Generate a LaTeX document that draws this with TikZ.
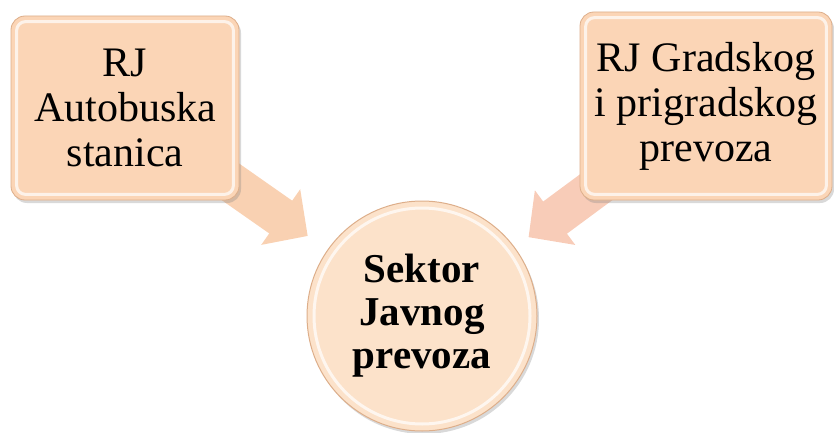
\documentclass[tikz,border=0pt]{standalone}
\usepackage{fontspec}
\setmainfont{Liberation Serif}
\usepackage{tikz}
\usetikzlibrary{shapes.geometric, arrows.meta, shadows, backgrounds}
\definecolor{boxpeach}{HTML}{FBD5B6}
\definecolor{boxedge}{HTML}{DDAE8A}
\definecolor{circpeach}{HTML}{FCE2CA}
\definecolor{arrowpeach}{HTML}{F9D1B2}
\definecolor{arrowpink}{HTML}{F8CCB8}
\tikzstyle{unit} = [rectangle, rounded corners=14pt,
minimum width=228pt,
minimum height=184pt,
text centered, align=center,
font=\fontsize{42}{45}\selectfont,
draw=boxedge, line width=0.8pt,
fill=boxpeach,
drop shadow={shadow xshift=2pt, shadow yshift=-3pt, opacity=0.3}]
\tikzstyle{sector} = [circle,
minimum size=230pt,
text centered, align=center,
font=\fontsize{41}{43}\selectfont\bfseries,
draw=boxedge, line width=1pt,
fill=circpeach,
drop shadow={shadow xshift=2pt, shadow yshift=-3pt, opacity=0.3}]
\tikzstyle{bevel} = [draw=white, line width=3pt, opacity=0.7, rounded corners=9pt]
\tikzstyle{flow} = [line width=40pt, -{Triangle[width=66pt, length=33pt]}]

\begin{document}
\begin{tikzpicture}[x=1pt, y=1pt]
\useasboundingbox (0,0) rectangle (834,432);

\node (sektor) [sector] at (422,116) {Sektor\\Javnog\\prevoza};
\node (autobuska) [unit, above of=sektor, node distance=208pt, xshift=-297pt] {RJ\\Autobuska\\stanica};
\node (gradski) [unit, above of=sektor, node distance=210pt, xshift=284pt, minimum width=252pt, minimum height=188pt] {RJ Gradskog\\i prigradskog\\prevoza};

% bevel highlights
\draw[bevel] ([shift={(6pt,-6pt)}]autobuska.north west) rectangle ([shift={(-6pt,6pt)}]autobuska.south east);
\draw[bevel] ([shift={(6pt,-6pt)}]gradski.north west) rectangle ([shift={(-6pt,6pt)}]gradski.south east);
\draw[bevel] (sektor.center) circle (108pt);

\begin{pgfonlayer}{background}
\draw[flow, arrowpeach, shorten >=24pt] (autobuska.center) -- (sektor);
\draw[flow, arrowpink, shorten >=17pt] (gradski.center) -- (sektor);
\end{pgfonlayer}

\end{tikzpicture}
\end{document}
